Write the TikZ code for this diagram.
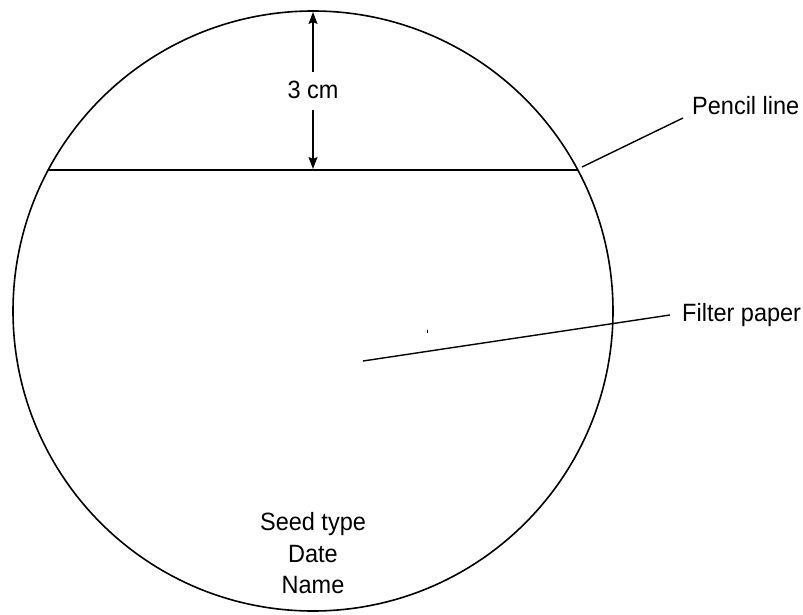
\documentclass[tikz,border=0pt]{standalone}
\usepackage{fontspec}
\setmainfont[FakeStretch=0.94]{Liberation Sans}
\usetikzlibrary{arrows.meta}
\begin{document}
\begin{tikzpicture}[x=1pt,y=-1pt,
  lbl/.style={font=\fontsize{25}{29}\selectfont, inner sep=0pt, anchor=base},
  ln/.style={line width=1.4pt},
  dimarrow/.style={line width=1.3pt, -{Stealth[length=12pt,width=9pt,inset=2pt]}}]
\useasboundingbox (0,0) rectangle (803,615);
\node[circle, draw, line width=1.6pt, minimum size=600pt, inner sep=0pt] (paper) at (313,311) {};
% chord (pencil line)
\coordinate (chL) at (48.2,170);
\coordinate (chR) at (577.8,170);
\draw[ln] (chL) -- (chR);
% dimension
\node[lbl] (dim) at (313,99) {3 cm};
\coordinate (dimTop) at (313,12);
\coordinate (dimBot) at (313,169);
\coordinate (dimU) at (313,72);
\coordinate (dimD) at (313,110);
\draw[dimarrow] (dimU) -- (dimTop);
\draw[dimarrow] (dimD) -- (dimBot);
% labels
\node[lbl, anchor=base west] (pencil) at (692,115) {Pencil line};
\node[lbl, anchor=base west] (filter) at (682,321) {Filter paper};
\coordinate (pA) at (582,167);
\coordinate (pB) at (683,118);
\draw[ln] (pA) -- (pB);
\coordinate (fA) at (363,361);
\coordinate (fB) at (670,315);
\draw[ln] (fA) -- (fB);
% stray tick
\coordinate (tA) at (427,329.5);
\coordinate (tB) at (427,332.5);
\draw[line width=0.9pt] (tA) -- (tB);
% text on paper
\node[lbl] (seed) at (313,530) {Seed type};
\node[lbl] (date) at (313,562) {Date};
\node[lbl] (name) at (313,593) {Name};
\end{tikzpicture}
\end{document}
